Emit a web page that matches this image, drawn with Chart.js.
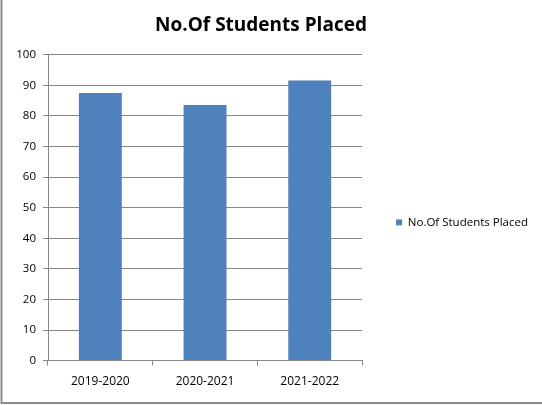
<!DOCTYPE html>
<html>
<head>
<meta charset="utf-8">
<script src="https://cdn.jsdelivr.net/npm/chart.js@4"></script>
<style>
html,body{margin:0;padding:0;background:#fff;}
#wrap{position:relative;width:542px;height:405px;}
</style>
</head>
<body>
<div id="wrap"><canvas id="c" width="542" height="405"></canvas></div>
<script>
const categories = ["2019-2020", "2020-2021", "2021-2022"];
const placedValues = [87.5, 83.6, 91.6];
const seriesName = "No.Of Students Placed";
const titleText = "No.Of Students Placed";

const frame = {
  id: 'frame',
  afterLayout(chart) {
    const t = chart.titleBlock;
    if (t) { t.left -= 8; t.right -= 8; }
  },
  afterDraw(chart) {
    const ctx = chart.ctx;
    ctx.save();
    ctx.strokeStyle = '#8c8c8c';
    ctx.lineWidth = 2;
    ctx.beginPath();
    ctx.moveTo(1.5, 0);
    ctx.lineTo(1.5, 403);
    ctx.lineTo(542, 403);
    ctx.stroke();
    ctx.restore();
  }
};

new Chart(document.getElementById('c'), {
  type: 'bar',
  data: {
    labels: categories,
    datasets: [{
      label: seriesName,
      data: placedValues,
      backgroundColor: '#4F81BD',
      borderWidth: 0,
      barPercentage: 0.41,
      categoryPercentage: 1.0
    }]
  },
  options: {
    responsive: false,
    animation: false,
    devicePixelRatio: 1,
    layout: { padding: { left: 0, right: 4, top: 0, bottom: 7 } },
    plugins: {
      title: {
        display: true,
        text: titleText,
        color: '#000',
        font: { family: 'Open Sans', size: 19, weight: 'bold' },
        padding: { top: 14, bottom: 18 }
      },
      legend: {
        position: 'right',
        align: 'center',
        maxWidth: 220,
        title: { display: true, text: '', padding: 0, font: { size: 39 } },
        labels: {
          boxWidth: 6,
          boxHeight: 6,
          padding: 34,
          color: '#000',
          font: { family: 'Open Sans', size: 11.5 }
        }
      },
      tooltip: { enabled: false }
    },
    scales: {
      x: {
        grid: {
          display: true,
          drawOnChartArea: false,
          drawTicks: true,
          tickLength: 5,
          color: '#868686',
          offset: true
        },
        border: { color: '#868686', width: 1 },
        ticks: {
          color: '#000',
          font: { family: 'Open Sans', size: 12 },
          padding: 9
        }
      },
      y: {
        min: 0,
        max: 100,
        afterFit(scale) { scale.width = 48; },
        ticks: {
          stepSize: 10,
          color: '#000',
          font: { family: 'Open Sans', size: 11.5 },
          padding: 7
        },
        grid: {
          color: '#868686',
          tickLength: 5,
          drawTicks: true
        },
        border: { color: '#868686', width: 1 }
      }
    }
  },
  plugins: [frame]
});
</script>
</body>
</html>
